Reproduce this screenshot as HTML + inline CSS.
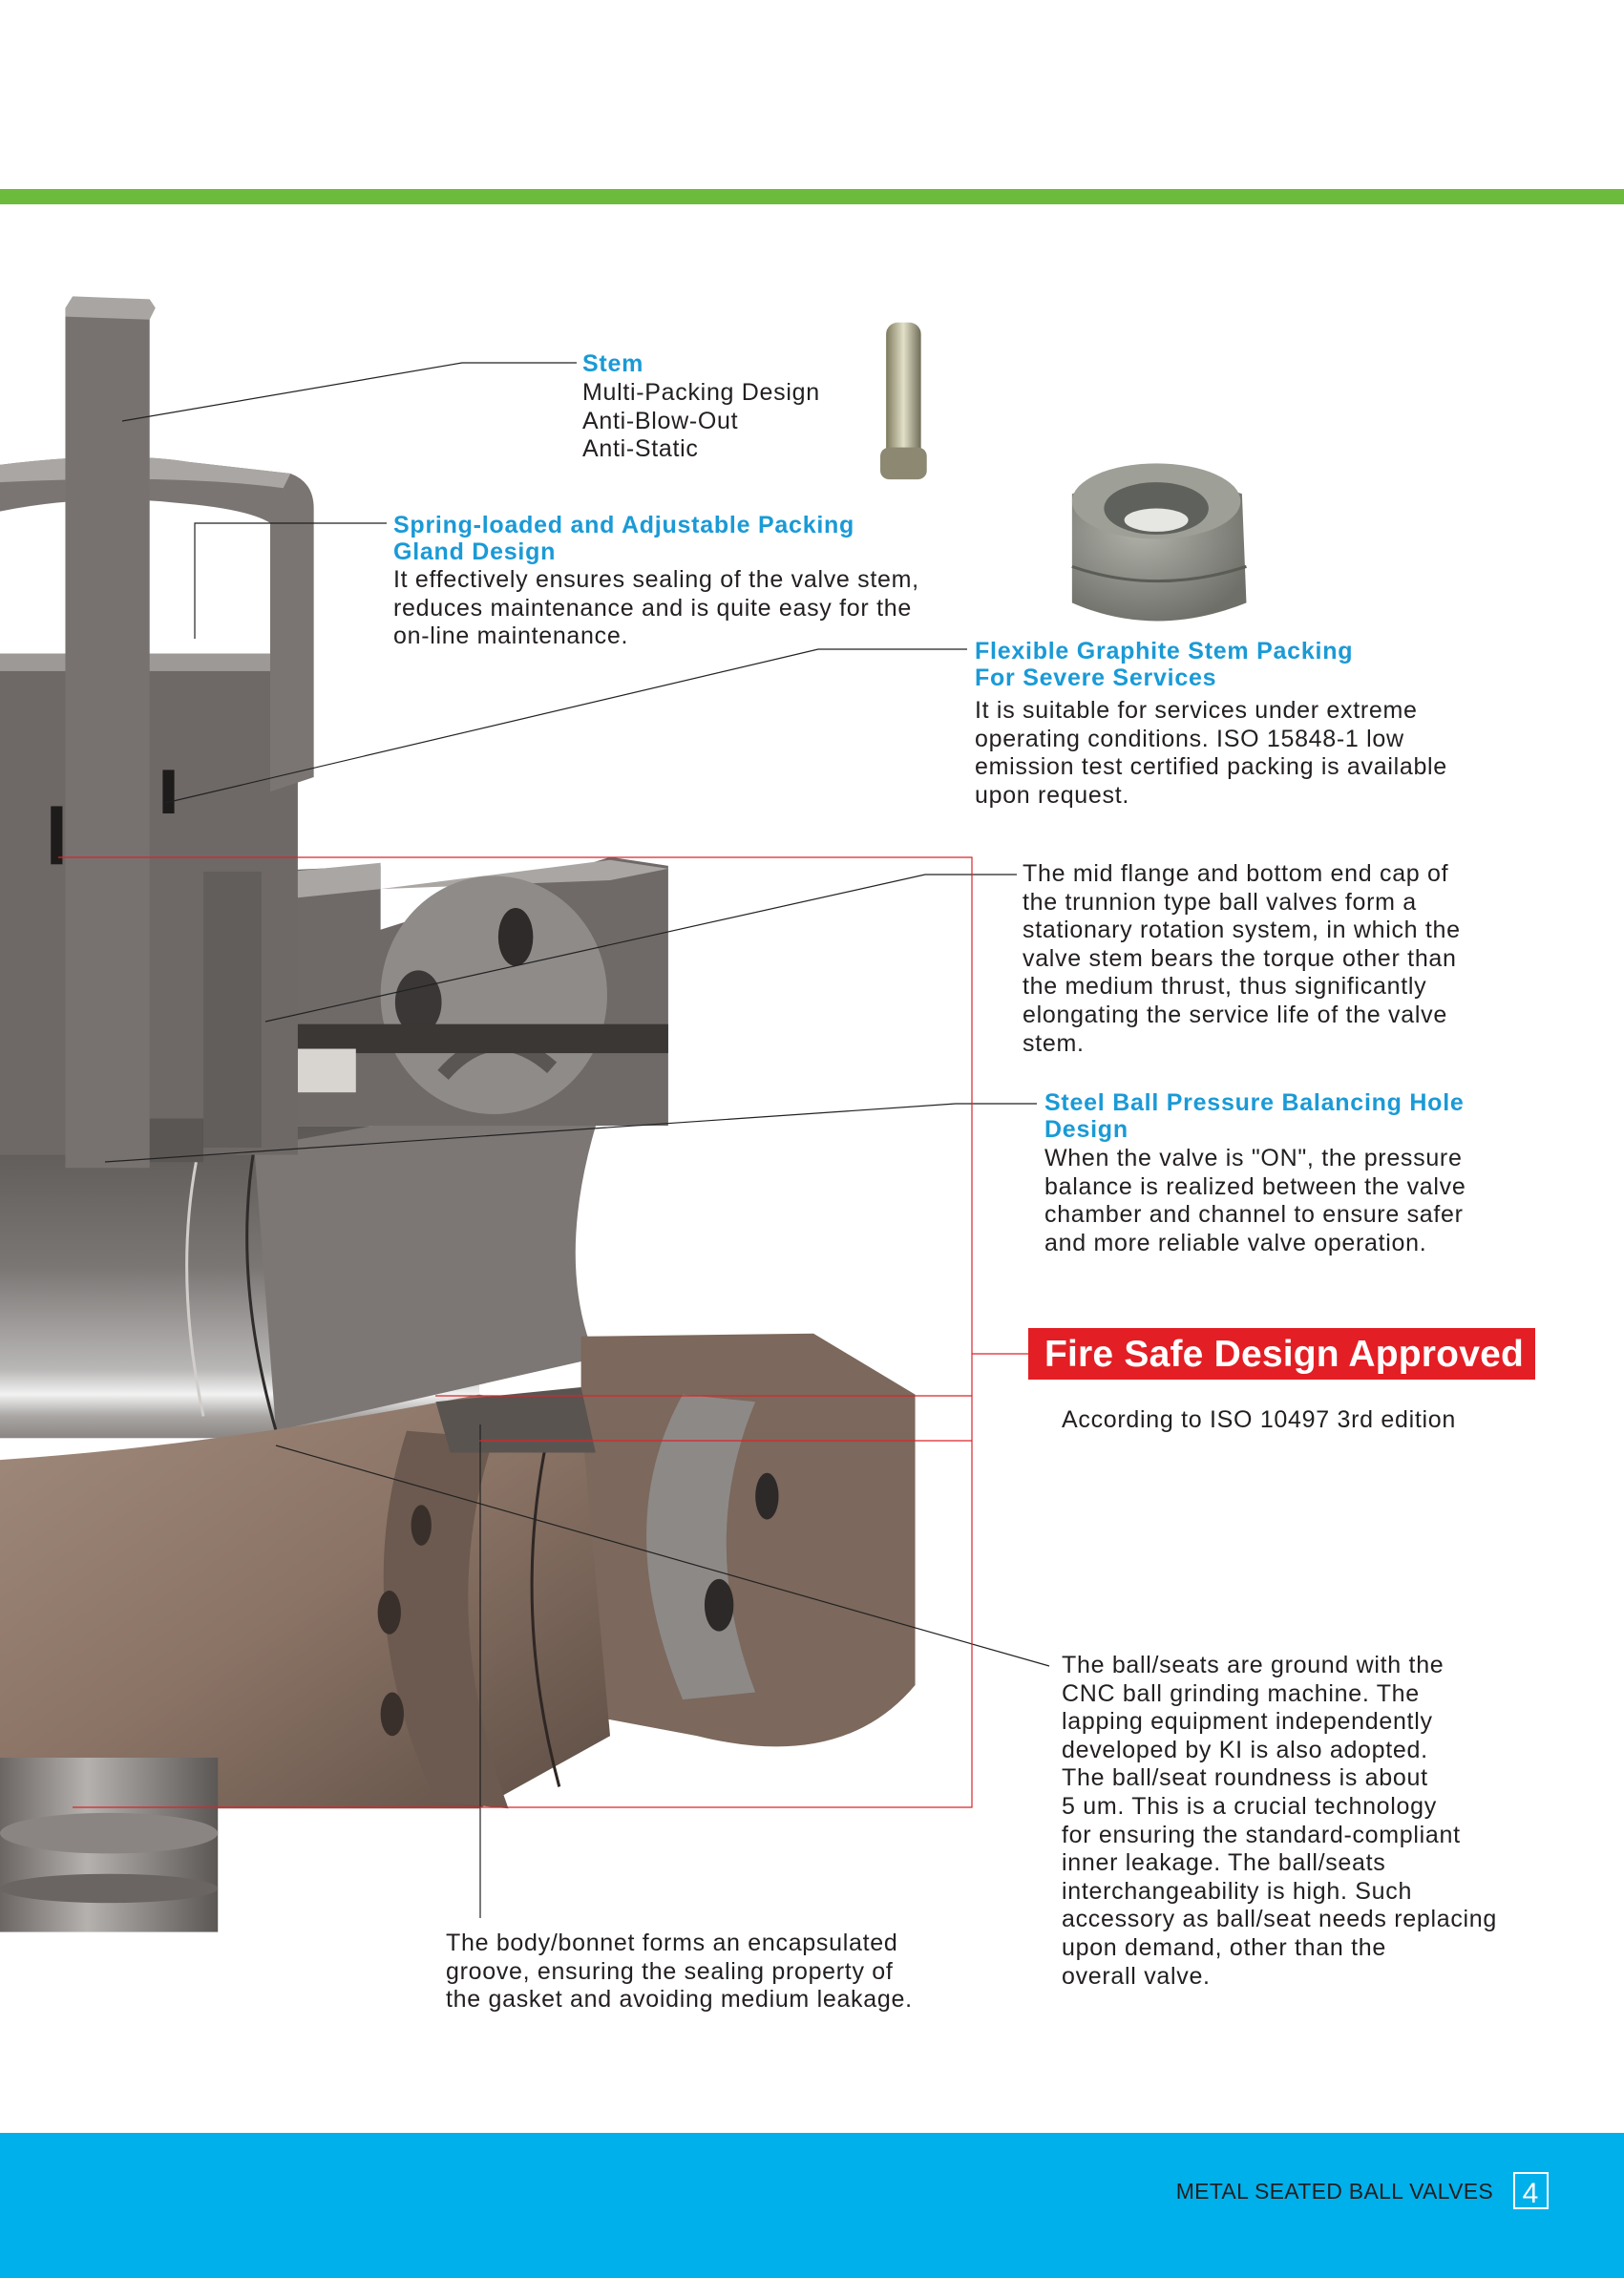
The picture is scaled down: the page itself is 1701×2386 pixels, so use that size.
<!DOCTYPE html>
<html><head><meta charset="utf-8">
<style>
html,body{margin:0;padding:0;background:#fff;}
#p{position:relative;width:1701px;height:2386px;overflow:hidden;background:#fff;font-family:"Liberation Sans",Arial,sans-serif;color:#231f20;}
.t{position:absolute;font-size:25px;line-height:29.6px;letter-spacing:0.7px;white-space:nowrap;}
.h{position:absolute;font-size:25px;line-height:27.5px;font-weight:bold;color:#1a9ad6;letter-spacing:0.75px;white-space:nowrap;}
svg{position:absolute;left:0;top:0;}
</style></head><body><div id="p">
<svg width="1701" height="2386" viewBox="0 0 1701 2386">
<defs>
<linearGradient id="bore" x1="0" y1="0" x2="0" y2="1">
<stop offset="0" stop-color="#5c5856"/><stop offset="0.45" stop-color="#7a7674"/><stop offset="0.78" stop-color="#b9b7b6"/><stop offset="0.86" stop-color="#f2f2f2"/><stop offset="0.93" stop-color="#a9a6a4"/><stop offset="1" stop-color="#8a8583"/>
</linearGradient>
<linearGradient id="brown" x1="0" y1="0" x2="1" y2="1">
<stop offset="0" stop-color="#a08a7c"/><stop offset="0.5" stop-color="#8a7365"/><stop offset="1" stop-color="#5e4e45"/>
</linearGradient>
<linearGradient id="trun" x1="0" y1="0" x2="1" y2="0">
<stop offset="0" stop-color="#6b6664"/><stop offset="0.4" stop-color="#b5b1ae"/><stop offset="1" stop-color="#5b5755"/>
</linearGradient>
<linearGradient id="pin" x1="0" y1="0" x2="1" y2="0">
<stop offset="0" stop-color="#7d7a5e"/><stop offset="0.5" stop-color="#e3e0c8"/><stop offset="1" stop-color="#6f6c58"/>
</linearGradient>
<radialGradient id="ring" cx="0.4" cy="0.35" r="0.7">
<stop offset="0" stop-color="#b2b3ab"/><stop offset="1" stop-color="#6d6f68"/>
</radialGradient>
</defs>
<rect x="0" y="198" width="1701" height="16" fill="#6cbb3c"/>
<rect x="0" y="2234" width="1701" height="152" fill="#00b0eb"/>
<g transform="scale(1.5215)">
<rect x="0" y="775" width="330" height="215" fill="url(#bore)"/>
<path d="M175,790 L420,745 Q378,860 410,935 L190,985 Z" fill="#7c7775"/>
<path d="M175,790 Q160,880 190,985" stroke="#2f2c2b" stroke-width="2" fill="none"/>
<path d="M135,800 Q120,880 140,975" stroke="#d0cdcb" stroke-width="2" fill="none"/>
<polygon points="175,600 262,596 262,640 420,590 460,596 460,775 175,775" fill="#6f6a68"/>
<polygon points="200,600 262,594 262,612 205,618" fill="#aaa6a3"/>
<polygon points="262,612 420,592 460,598 420,606" fill="#aaa6a3"/>
<ellipse cx="340" cy="685" rx="78" ry="82" fill="#8f8b89"/>
<ellipse cx="355" cy="645" rx="12" ry="20" fill="#2e2b2a"/>
<ellipse cx="288" cy="690" rx="16" ry="22" fill="#3a3736"/>
<path d="M305,740 Q340,700 380,735" stroke="#5a5654" stroke-width="10" fill="none"/>
<rect x="150" y="705" width="310" height="20" fill="#3a3735"/>
<rect x="205" y="722" width="40" height="30" fill="#d8d5d0"/>
<rect x="0" y="450" width="205" height="345" fill="#6e6967"/>
<rect x="0" y="450" width="205" height="12" fill="#9d9996"/>
<rect x="140" y="600" width="40" height="190" fill="#625e5c"/>
<rect x="35" y="555" width="8" height="40" fill="#1e1c1b"/>
<rect x="112" y="530" width="8" height="30" fill="#1e1c1b"/>
<rect x="60" y="770" width="80" height="30" fill="#5a5654"/>
<path d="M0,320 Q80,310 130,318 L200,326 Q216,332 216,350 L216,535 L186,545 L186,360 Q170,350 120,346 Q60,340 0,352 Z" fill="#7a7572"/>
<path d="M0,320 Q80,310 130,318 L200,326 L195,336 Q120,326 0,332 Z" fill="#aaa6a3"/>
<rect x="45" y="212" width="58" height="592" fill="#77726f"/>
<polygon points="45,212 50,204 103,206 107,212 103,220 45,218" fill="#a9a5a2"/>
<path d="M400,920 L560,918 L630,960 L630,1160 Q580,1220 480,1195 L400,1180 Z" fill="#7c685c"/>
<path d="M470,960 Q420,1050 470,1170 L520,1165 Q480,1060 520,965 Z" fill="#8d8987"/>
<ellipse cx="528" cy="1030" rx="8" ry="16" fill="#2c2928"/>
<ellipse cx="495" cy="1105" rx="10" ry="18" fill="#2c2928"/>
<path d="M0,1005 Q150,995 330,960 L400,975 L420,1195 L330,1245 L100,1245 Q30,1230 0,1215 Z" fill="url(#brown)"/>
<path d="M280,985 Q240,1110 300,1240 L350,1245 Q300,1110 340,990 Z" fill="#6c5a50"/>
<ellipse cx="290" cy="1050" rx="7" ry="14" fill="#3a302b"/>
<ellipse cx="268" cy="1110" rx="8" ry="15" fill="#3a302b"/>
<ellipse cx="270" cy="1180" rx="8" ry="15" fill="#3a302b"/>
<path d="M380,975 Q350,1100 385,1230" stroke="#2f2725" stroke-width="2" fill="none"/>
<polygon points="300,965 400,955 410,1000 310,1000" fill="#5a5451"/>
<rect x="0" y="1210" width="150" height="120" fill="url(#trun)"/>
<ellipse cx="75" cy="1262" rx="75" ry="14" fill="#8a8583"/>
<ellipse cx="75" cy="1300" rx="75" ry="10" fill="#6a6563"/>
<rect x="610" y="222" width="24" height="100" rx="8" fill="url(#pin)"/>
<rect x="606" y="308" width="32" height="22" rx="6" fill="#8c8872"/>
<path d="M738,340 Q795,318 855,340 L858,415 Q795,440 738,415 Z" fill="url(#ring)"/>
<ellipse cx="796" cy="345" rx="58" ry="26" fill="#9ea097"/>
<ellipse cx="796" cy="350" rx="36" ry="18" fill="#5f625c"/>
<ellipse cx="796" cy="358" rx="22" ry="8" fill="#e6e6e2"/>
<path d="M738,390 Q796,410 858,390" stroke="#5a5c56" stroke-width="2" fill="none"/>
</g>
<g stroke="#222" stroke-width="1.2" fill="none">
<polyline points="128,441 484,380 604,380"/>
<polyline points="204,669 204,548 405,548"/>
<polyline points="173,841 857,680 1013,680"/>
<polyline points="278,1070 969,916 1065,916"/>
<polyline points="110,1217 1001,1156 1086,1156"/>
<line x1="289" y1="1514" x2="1099" y2="1745"/>
<line x1="503" y1="1492" x2="503" y2="2009"/>
</g>
<g stroke="#d9242b" stroke-width="1.2" fill="none">
<polyline points="61,898 1018,898 1018,1893 76,1893"/>
<line x1="1018" y1="1418" x2="1077" y2="1418"/>
<line x1="456" y1="1462" x2="1018" y2="1462"/>
<line x1="502" y1="1509" x2="1018" y2="1509"/>
</g>
<rect x="1077" y="1391" width="531" height="54" fill="#e31e24"/>
<text x="1094" y="1431" font-family="Liberation Sans, Arial, sans-serif" font-weight="bold" font-size="39" fill="#fff" letter-spacing="0.2">Fire Safe Design Approved</text>
<rect x="1586" y="2276" width="35" height="37" fill="none" stroke="#fff" stroke-width="2"/>
<text x="1603" y="2307" text-anchor="middle" font-family="Liberation Sans, Arial, sans-serif" font-size="30" fill="#fff">4</text>
<text x="1564" y="2303" text-anchor="end" font-family="Liberation Sans, Arial, sans-serif" font-size="23" fill="#231f20" letter-spacing="0.3">METAL SEATED BALL VALVES</text>
</svg>

<div class="h" style="left:610px;top:368px;">Stem</div>
<div class="t" style="left:610px;top:397px;">Multi-Packing Design<br>Anti-Blow-Out<br>Anti-Static</div>

<div class="h" style="left:412px;top:537px;">Spring-loaded and Adjustable Packing<br>Gland Design</div>
<div class="t" style="left:412px;top:593px;">It effectively ensures sealing of the valve stem,<br>reduces maintenance and is quite easy for the<br>on-line maintenance.</div>

<div class="h" style="left:1021px;top:669px;">Flexible Graphite Stem Packing<br>For Severe Services</div>
<div class="t" style="left:1021px;top:730px;">It is suitable for services under extreme<br>operating conditions. ISO 15848-1 low<br>emission test certified packing is available<br>upon request.</div>

<div class="t" style="left:1071px;top:901px;">The mid flange and bottom end cap of<br>the trunnion type ball valves form a<br>stationary rotation system, in which the<br>valve stem bears the torque other than<br>the medium thrust, thus significantly<br>elongating the service life of the valve<br>stem.</div>

<div class="h" style="left:1094px;top:1142px;">Steel Ball Pressure Balancing Hole<br>Design</div>
<div class="t" style="left:1094px;top:1199px;">When the valve is "ON", the pressure<br>balance is realized between the valve<br>chamber and channel to ensure safer<br>and more reliable valve operation.</div>

<div class="t" style="left:1112px;top:1473px;">According to ISO 10497 3rd edition</div>

<div class="t" style="left:1112px;top:1730px;">The ball/seats are ground with the<br>CNC ball grinding machine. The<br>lapping equipment independently<br>developed by KI is also adopted.<br>The ball/seat roundness is about<br>5 um. This is a crucial technology<br>for ensuring the standard-compliant<br>inner leakage. The ball/seats<br>interchangeability is high. Such<br>accessory as ball/seat needs replacing<br>upon demand, other than the<br>overall valve.</div>

<div class="t" style="left:467px;top:2021px;">The body/bonnet forms an encapsulated<br>groove, ensuring the sealing property of<br>the gasket and avoiding medium leakage.</div>
</div></body></html>
